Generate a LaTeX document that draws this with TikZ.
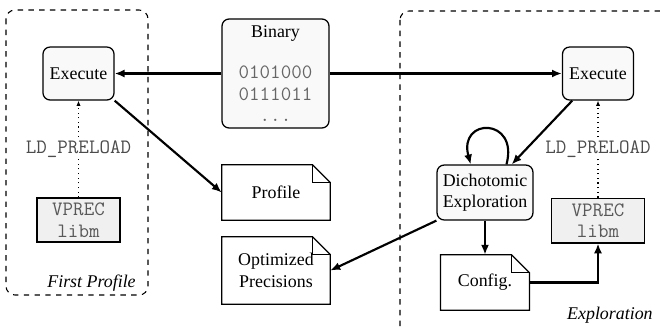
\documentclass[tikz,border=0pt]{standalone}
\usepackage{fontspec}
\setmainfont{Liberation Serif}
\setmonofont[Scale=1.14]{Latin Modern Mono}
\usetikzlibrary{arrows.meta,positioning}
\tikzset{
  block/.style={draw, rounded corners=4pt, fill=gray!5, line width=0.7pt, align=center, inner sep=2pt},
  lib/.style={draw, fill=gray!12, line width=0.7pt, align=center, font=\ttfamily, text=black!65, inner sep=2pt},
  doc/.style={align=center, inner sep=2pt},
  flow/.style={-{Latex[length=5.5pt,width=4.5pt]}, line width=1.2pt},
  preload/.style={dotted, -{Latex[length=3pt,width=2.5pt]}, line width=0.6pt},
  region/.style={dashed, rounded corners=5pt, line width=0.6pt},
  ldlabel/.style={fill=white, font=\ttfamily, text=black!70, inner sep=1pt}
}
\newcommand{\docframe}[1]{%
  \draw[line width=0.7pt, fill=white] (#1.south west) -- (#1.north west) -- ([xshift=-10pt]#1.north east)
    -- ([yshift=-10pt]#1.north east) -- (#1.south east) -- cycle;
  \draw[line width=1pt] ([xshift=-10pt]#1.north east) |- ([yshift=-10pt]#1.north east);
}
\begin{document}
\begin{tikzpicture}[x=0.5587pt,y=-0.5587pt]
\path[use as bounding box, clip] (0,0) rectangle (665,329);

% regions
\draw[region] (6,10) rectangle (148,295);
\node[font=\itshape, anchor=east] (lname) at (142,283) {First Profile};
\draw[region] (400,11) rectangle (690,350);
\node[font=\itshape, anchor=east] (rname) at (659,315) {Exploration};

% binary
\node[block, minimum width=59.8pt, minimum height=60.9pt] (bin) at (275.5,73.5)
  {Binary\\[11pt]{\ttfamily\color{black!60}0101000}\\{\ttfamily\color{black!60}0111011}\\{\ttfamily\color{black!60}...}};

% first profile
\node[block, minimum width=39.7pt, minimum height=29.6pt] (lexec) at (78.5,73.5) {Execute};
\node[lib, minimum width=46.4pt, minimum height=24.6pt] (lvprec) at (78.5,220) {VPREC\\libm};
\draw[preload] (lvprec) -- node[ldlabel] (lld) {LD\_PRELOAD} (lexec);

% exploration
\node[block, minimum width=39.7pt, minimum height=29.6pt] (rexec) at (598,73.5) {Execute};
\node[block, minimum width=53.6pt, minimum height=30.7pt] (dich) at (485,192.5) {Dichotomic\\Exploration};
\node[lib, minimum width=52pt, minimum height=25pt] (rvprec) at (598,220.5) {VPREC\\libm};
\draw[preload] (rvprec) -- node[ldlabel] (rld) {LD\_PRELOAD} (rexec);

% documents
\node[doc, minimum width=60.3pt, minimum height=30.7pt] (profile) at (276,192.5) {};
\docframe{profile}
\node at (profile) {Profile};
\node[doc, minimum width=60.3pt, minimum height=37.4pt] (opt) at (276,270.5) {};
\docframe{opt}
\node[align=center] at (opt) {Optimized\\Precisions};
\node[doc, minimum width=49.2pt, minimum height=30.7pt] (config) at (485,282.5) {};
\docframe{config}
\node at (config) {Config.};

% connectors
\draw[flow] (bin.west) -- (lexec.east);
\draw[flow] (bin.east) -- (rexec.west);
\draw[flow] (lexec.south east) -- (profile.west);
\draw[flow] (rexec) -- (dich);
\draw[flow] ([xshift=12pt]dich.north) to[out=75,in=105,looseness=3.5] ([xshift=-8pt]dich.north);
\draw[flow] (dich.south west) -- (opt.east);
\draw[flow] (dich.south) -- (config.north);
\draw[flow] (config.east) -| (rvprec.south);
\end{tikzpicture}
\end{document}
